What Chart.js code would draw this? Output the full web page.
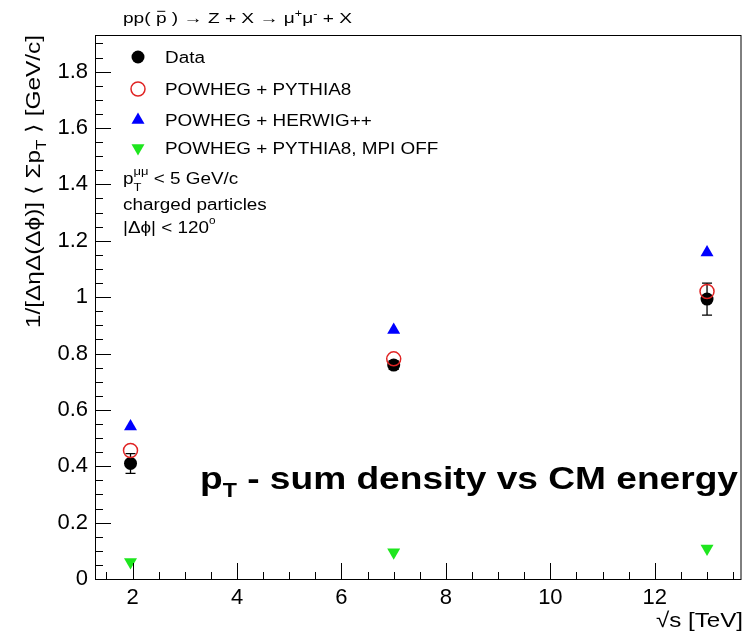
<!DOCTYPE html>
<html>
<head>
<meta charset="UTF-8">
<title>pT sum density vs CM energy</title>
<script src="https://cdn.jsdelivr.net/npm/chart.js@4.4.1/dist/chart.umd.min.js"></script>
<style>
  body { margin: 0; background: #fff; }
  #wrap { width: 750px; height: 632px; }
</style>
</head>
<body>
<div id="wrap"><canvas id="myChart" width="750" height="632"></canvas></div>
<script>
// sqrt(s) in TeV
var energies = [1.96, 7, 13];
var seriesNames = ['Data', 'POWHEG + PYTHIA8', 'POWHEG + HERWIG++', 'POWHEG + PYTHIA8, MPI OFF'];
var dataVals = [0.41, 0.759, 0.993];
var dataErr = [0.035, 0.015, 0.057];
var pythia8Vals = [0.456, 0.781, 1.02];
var herwigVals = [0.541, 0.883, 1.158];
var mpiOffVals = [0.06, 0.095, 0.108];
var xTicks = [2, 4, 6, 8, 10, 12];
var yTicks = [0, 0.2, 0.4, 0.6, 0.8, 1, 1.2, 1.4, 1.6, 1.8];

var FONT = '"Liberation Sans", Arial, Helvetica, sans-serif';
var SX = 1.18; // the original picture is a bit wider than tall

function pts(vals) {
    return energies.map(function(e, i) { return { x: e, y: vals[i] }; });
}

// draw a row of text pieces (sub/superscripts, overline)
function rich(ctx, x, y, parts, sx, fitWidth) {
    var total = 0, kept = 0;
    parts.forEach(function(p) {
        ctx.font = (p.b ? 'bold ' : '') + p.s + 'px ' + FONT;
        var w = ctx.measureText(p.t).width;
        if (p.keep) { kept = w; return; }
        total += Math.max(w, kept); kept = 0;
    });
    if (fitWidth) sx = fitWidth / total;
    ctx.save();
    ctx.translate(x, y);
    ctx.scale(sx, 1);
    ctx.fillStyle = '#000';
    ctx.strokeStyle = '#000';
    ctx.textBaseline = 'alphabetic';
    ctx.textAlign = 'left';
    var cx = 0; kept = 0;
    parts.forEach(function(p) {
        ctx.font = (p.b ? 'bold ' : '') + p.s + 'px ' + FONT;
        ctx.fillText(p.t, cx, p.dy || 0);
        var w = ctx.measureText(p.t).width;
        if (p.bar) {
            ctx.lineWidth = 1;
            ctx.beginPath();
            ctx.moveTo(cx + 1, (p.dy || 0) - p.s * 0.78);
            ctx.lineTo(cx + w - 1, (p.dy || 0) - p.s * 0.78);
            ctx.stroke();
        }
        if (p.keep) { kept = w; return; }
        cx += Math.max(w, kept); kept = 0;
    });
    ctx.restore();
    return total * sx;
}

function marker(ctx, style, x, y) {
    ctx.save();
    ctx.beginPath();
    if (style === 'data') {
        ctx.fillStyle = '#000';
        ctx.arc(x, y, 6.5, 0, Math.PI * 2);
        ctx.fill();
    } else if (style === 'open') {
        ctx.strokeStyle = '#e02424';
        ctx.lineWidth = 1.5;
        ctx.arc(x, y, 7, 0, Math.PI * 2);
        ctx.stroke();
    } else {
        var r = 7.5, d = style === 'up' ? 1 : -1;
        ctx.fillStyle = style === 'up' ? '#0000ff' : '#1ee61e';
        ctx.moveTo(x, y - d * r);
        ctx.lineTo(x + r * 0.866, y + d * r * 0.5);
        ctx.lineTo(x - r * 0.866, y + d * r * 0.5);
        ctx.closePath();
        ctx.fill();
    }
    ctx.restore();
}

var rootStyle = {
    id: 'rootStyle',
    beforeDatasetsDraw: function(chart) {
        // error bars on the data points
        var ctx = chart.ctx, xs = chart.scales.x, ys = chart.scales.y;
        ctx.save();
        ctx.strokeStyle = '#000';
        ctx.lineWidth = 1.3;
        energies.forEach(function(e, i) {
            var px = xs.getPixelForValue(e);
            var top = ys.getPixelForValue(dataVals[i] + dataErr[i]);
            var bot = ys.getPixelForValue(dataVals[i] - dataErr[i]);
            ctx.beginPath();
            ctx.moveTo(px, top); ctx.lineTo(px, bot);
            ctx.moveTo(px - 5, top); ctx.lineTo(px + 5, top);
            ctx.moveTo(px - 5, bot); ctx.lineTo(px + 5, bot);
            ctx.stroke();
        });
        ctx.restore();
    },
    afterDraw: function(chart) {
        var ctx = chart.ctx, a = chart.chartArea;
        var xs = chart.scales.x, ys = chart.scales.y;
        ctx.save();
        // frame
        ctx.strokeStyle = '#000';
        ctx.lineWidth = 1;
        ctx.strokeRect(a.left + 0.5, a.top + 0.5, a.right - a.left - 1, a.bottom - a.top);

        // inward ticks
        ctx.beginPath();
        var v, p;
        for (v = Math.ceil(xs.min * 2) / 2; v <= xs.max; v += 0.5) {
            p = Math.round(xs.getPixelForValue(v)) + 0.5;
            var maj = Math.abs(v / 2 - Math.round(v / 2)) < 1e-6;
            ctx.moveTo(p, a.bottom);
            ctx.lineTo(p, a.bottom - (maj ? 16 : 7));
        }
        for (var k = 0; k * 0.05 <= ys.max; k++) {
            v = k * 0.05;
            p = Math.round(ys.getPixelForValue(v)) + 0.5;
            ctx.moveTo(a.left, p);
            ctx.lineTo(a.left + (k % 4 === 0 ? 16 : 8), p);
        }
        ctx.stroke();
        ctx.restore();

        // title
        rich(ctx, 123, 23, [
            { t: 'pp( ', s: 15 }, { t: 'p', s: 15, bar: true }, { t: ' ) \u2192 Z + X \u2192 \u03bc', s: 15 },
            { t: '+', s: 10, dy: -6 }, { t: '\u03bc', s: 15 }, { t: '-', s: 10, dy: -6 }, { t: ' + X', s: 15 }
        ], 1, 229);

        // legend
        var styles = ['data', 'open', 'up', 'down'];
        var ly = [57, 89, 120, 148];
        styles.forEach(function(st, i) {
            marker(ctx, st, 138, ly[i]);
            rich(ctx, 165, ly[i] + 6, [{ t: seriesNames[i], s: 16 }], SX);
        });

        // selection text
        rich(ctx, 123, 184, [
            { t: 'p', s: 16 }, { t: 'T', s: 11, dy: 7, keep: true }, { t: '\u03bc\u03bc', s: 11, dy: -9 },
            { t: ' < 5 GeV/c', s: 16 }
        ], SX);
        rich(ctx, 123, 210, [{ t: 'charged particles', s: 16 }], SX);
        rich(ctx, 123, 233, [
            { t: '|\u0394\u03d5| < 120', s: 16 }, { t: 'o', s: 10, dy: -9 }
        ], SX);

        // big annotation
        rich(ctx, 200, 489, [
            { t: 'p', s: 32, b: true }, { t: 'T', s: 20, b: true, dy: 8 },
            { t: ' - sum density vs CM energy', s: 32, b: true }
        ], 1, 538);

        // x axis title, right aligned to the frame
        ctx.font = '21px ' + FONT;
        var xt = '\u221as [TeV]';
        var xw = ctx.measureText(xt).width * 1.15;
        rich(ctx, 743 - xw, 627, [{ t: xt, s: 21 }], 1.15);

        // y axis title, rotated, ending at the top of the frame
        var yParts = [
            { t: '1/[\u0394\u03b7\u0394(\u0394\u03d5)] \u27e8 \u03a3p', s: 20 },
            { t: 'T', s: 14, dy: 6 },
            { t: ' \u27e9 [GeV/c]', s: 20 }
        ];
        var yLen = 293;
        ctx.save();
        ctx.translate(40, a.top + yLen);
        ctx.rotate(-Math.PI / 2);
        rich(ctx, 0, 0, yParts, 1, yLen);
        ctx.restore();
    }
};

var ctx = document.getElementById('myChart').getContext('2d');
var chart = new Chart(ctx, {
    type: 'scatter',
    data: {
        datasets: [{
            label: seriesNames[0],
            data: pts(dataVals),
            pointStyle: 'circle',
            pointRadius: 6.5,
            backgroundColor: '#000',
            borderColor: '#000',
            borderWidth: 0,
            order: 3
        }, {
            label: seriesNames[1],
            data: pts(pythia8Vals),
            pointStyle: 'circle',
            pointRadius: 7,
            backgroundColor: 'rgba(0,0,0,0)',
            borderColor: '#e02424',
            borderWidth: 1.5,
            order: 2
        }, {
            label: seriesNames[2],
            data: pts(herwigVals),
            pointStyle: 'triangle',
            pointRadius: 7.5,
            backgroundColor: '#0000ff',
            borderColor: '#0000ff',
            borderWidth: 0,
            order: 1
        }, {
            label: seriesNames[3],
            data: pts(mpiOffVals),
            pointStyle: 'triangle',
            rotation: 180,
            pointRadius: 7.5,
            backgroundColor: '#1ee61e',
            borderColor: '#1ee61e',
            borderWidth: 0,
            order: 0
        }]
    },
    options: {
        responsive: false,
        devicePixelRatio: 1,
        animation: false,
        layout: { padding: { left: 0, right: 1, top: 35, bottom: 0 } },
        plugins: {
            legend: { display: false },
            tooltip: { enabled: false },
            title: { display: false }
        },
        scales: {
            x: {
                type: 'linear',
                min: 1.28,
                max: 13.66,
                grid: { display: false, drawTicks: false, tickLength: 0 },
                border: { display: false },
                afterBuildTicks: function(s) { s.ticks = xTicks.map(function(v) { return { value: v }; }); },
                afterFit: function(s) { s.height = 53; },
                ticks: {
                    autoSkip: false,
                    maxRotation: 0,
                    padding: 6,
                    color: '#000',
                    font: { family: FONT, size: 22 },
                    callback: function(v) { return String(v); }
                }
            },
            y: {
                type: 'linear',
                min: 0,
                max: 1.93,
                grid: { display: false, drawTicks: false, tickLength: 0 },
                border: { display: false },
                afterBuildTicks: function(s) { s.ticks = yTicks.map(function(v) { return { value: v }; }); },
                afterFit: function(s) { s.width = 95; },
                ticks: {
                    autoSkip: false,
                    padding: 7,
                    color: '#000',
                    font: { family: FONT, size: 22 },
                    callback: function(v) { return String(Math.round(v * 100) / 100); }
                }
            }
        }
    },
    plugins: [rootStyle]
});
</script>
</body>
</html>
